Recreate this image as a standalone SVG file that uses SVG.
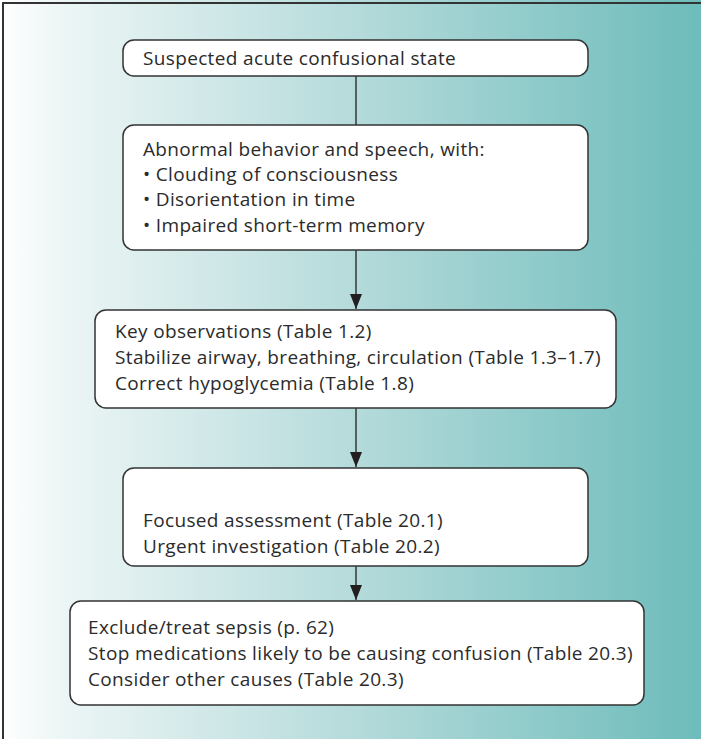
<svg xmlns="http://www.w3.org/2000/svg" width="701" height="739" viewBox="0 0 701 739">
  <defs>
    <linearGradient id="bg" x1="0" y1="0" x2="1" y2="0">
      <stop offset="0" stop-color="#ffffff"/>
      <stop offset="0.08" stop-color="#eef6f6"/>
      <stop offset="0.5" stop-color="#b6dbdb"/>
      <stop offset="1" stop-color="#6dbcbb"/>
    </linearGradient>
    <marker id="arrow" viewBox="0 0 15 12" refX="15" refY="6" markerWidth="15" markerHeight="12" markerUnits="userSpaceOnUse" orient="auto">
      <path d="M0 0 L15 6 L0 12 Z" fill="#231f20"/>
    </marker>
    <style>
      .box { fill: #ffffff; stroke: #333333; stroke-width: 1.5; }
      .lbl { font-family: "Open Sans", "Noto Sans", "Liberation Sans", sans-serif; font-size: 19px; letter-spacing: 0.35px; fill: #2b2b2b; }
      .conn { stroke: #231f20; stroke-width: 1.3; fill: none; }
      .frame { stroke: #333333; stroke-width: 2; fill: none; }
    </style>
  </defs>

  <!-- background panel -->
  <rect x="0" y="0" width="701" height="739" fill="url(#bg)"/>
  <path class="frame" d="M3 739 V3 H701"/>

  <!-- connectors -->
  <g id="connectors">
    <line class="conn" x1="356" y1="76" x2="356" y2="125"/>
    <line class="conn" x1="356" y1="250" x2="356" y2="309" marker-end="url(#arrow)"/>
    <line class="conn" x1="356" y1="408" x2="356" y2="467" marker-end="url(#arrow)"/>
    <line class="conn" x1="356" y1="566" x2="356" y2="600" marker-end="url(#arrow)"/>
  </g>

  <g id="suspected">
    <rect class="box" x="123" y="40" width="465" height="36" rx="11"/>
    <text class="lbl" x="143" y="65">Suspected acute confusional state</text>
  </g>

  <g id="abnormal">
    <rect class="box" x="123" y="125" width="465" height="125" rx="11"/>
    <text class="lbl" x="143" y="156">Abnormal behavior and speech, with:</text>
    <text class="lbl" x="143" y="181">• Clouding of consciousness</text>
    <text class="lbl" x="143" y="206">• Disorientation in time</text>
    <text class="lbl" x="143" y="232">• Impaired short-term memory</text>
  </g>

  <g id="stabilize">
    <rect class="box" x="95" y="310" width="521" height="98" rx="11"/>
    <text class="lbl" x="115" y="338">Key observations (Table 1.2)</text>
    <text class="lbl" x="115" y="364">Stabilize airway, breathing, circulation (Table 1.3–1.7)</text>
    <text class="lbl" x="115" y="390">Correct hypoglycemia (Table 1.8)</text>
  </g>

  <g id="assessment">
    <rect class="box" x="123" y="468" width="465" height="98" rx="11"/>
    <text class="lbl" x="143" y="527">Focused assessment (Table 20.1)</text>
    <text class="lbl" x="143" y="553">Urgent investigation (Table 20.2)</text>
  </g>

  <g id="causes">
    <rect class="box" x="70" y="601" width="574" height="104" rx="11"/>
    <text class="lbl" x="88" y="634">Exclude/treat sepsis (p. 62)</text>
    <text class="lbl" x="88" y="660">Stop medications likely to be causing confusion (Table 20.3)</text>
    <text class="lbl" x="88" y="686">Consider other causes (Table 20.3)</text>
  </g>
</svg>
